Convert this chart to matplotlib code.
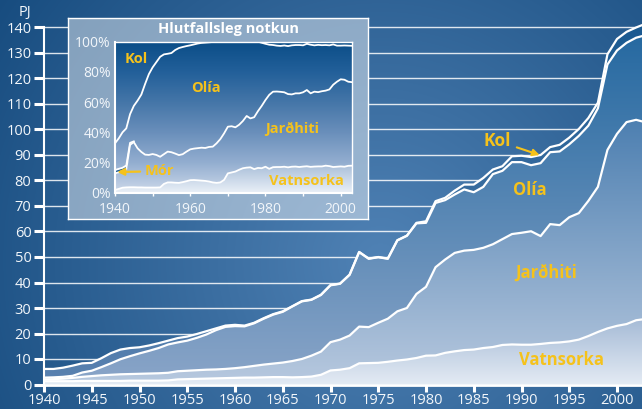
import numpy as np
import matplotlib.pyplot as plt
from matplotlib.colors import LinearSegmentedColormap, to_rgb

plt.rcParams['font.family'] = ['Open Sans', 'DejaVu Sans']

W, H = 642, 409

# years shown in both charts
ar = list(range(1940, 2004))

# main chart, PJ - upper edge of each stacked band
vatnsorka = [1.3, 1.3, 1.3, 1.3, 1.4, 1.4, 1.4, 1.4, 1.4, 1.5,
             1.5, 1.5, 1.5, 1.6, 2.0, 2.1, 2.2, 2.3, 2.4, 2.5,
             2.6, 2.7, 2.7, 2.8, 2.9, 2.9, 2.8, 2.9, 3.1, 3.8,
             5.5, 5.8, 6.4, 8.3, 8.4, 8.5, 8.9, 9.4, 9.8, 10.4,
             11.3, 11.4, 12.4, 13.0, 13.5, 13.7, 14.3, 14.7, 15.5, 15.7,
             15.6, 15.6, 15.9, 16.3, 16.5, 16.9, 17.6, 19.0, 20.6, 22.0,
             23.0, 23.7, 25.2, 25.7]
jardhiti = [2.0, 2.1, 2.3, 2.6, 3.0, 3.3, 3.6, 3.8, 4.0, 4.1,
            4.2, 4.3, 4.4, 4.6, 5.2, 5.4, 5.6, 5.8, 5.9, 6.1,
            6.4, 6.8, 7.3, 7.8, 8.2, 8.6, 9.2, 10.0, 11.3, 12.9,
            16.6, 17.6, 19.2, 22.7, 22.5, 24.2, 25.8, 28.7, 30.0, 35.5,
            38.3, 46.0, 49.0, 51.6, 52.5, 52.8, 53.6, 55.0, 57.0, 59.0,
            59.5, 60.1, 58.2, 62.9, 62.5, 65.6, 67.2, 72.0, 77.5, 92.0,
            98.3, 102.9, 103.8, 102.8]
olia = [2.7, 2.8, 3.0, 3.4, 4.7, 5.4, 6.8, 8.3, 9.9, 11.1,
        12.2, 13.2, 14.3, 15.7, 16.5, 17.2, 18.3, 19.6, 21.3, 22.6,
        22.9, 22.8, 24.0, 25.8, 27.4, 28.5, 30.6, 32.6, 33.2, 35.1,
        38.9, 39.5, 43.0, 51.9, 49.3, 49.9, 49.3, 56.5, 58.3, 63.2,
        63.4, 71.2, 72.3, 74.5, 76.5, 75.4, 77.5, 82.5, 83.8, 87.2,
        87.2, 86.0, 86.8, 91.1, 91.4, 94.2, 97.5, 101.5, 108.3, 125.5,
        131.0, 134.0, 136.0, 137.0]
heild = [6.1, 6.1, 6.6, 7.4, 8.3, 8.5, 10.3, 12.3, 13.7, 14.3,
         14.6, 15.3, 16.2, 17.2, 18.2, 18.8, 19.8, 20.9, 22.0, 23.1,
         23.4, 23.1, 24.2, 26.0, 27.6, 28.7, 30.7, 32.7, 33.3, 35.2,
         39.0, 39.6, 43.1, 52.0, 49.4, 50.0, 49.4, 56.6, 58.4, 63.4,
         64.0, 71.9, 73.2, 76.0, 78.4, 78.4, 81.0, 84.3, 85.6, 89.5,
         89.7, 89.2, 90.0, 93.1, 94.0, 96.8, 100.2, 104.5, 110.5, 129.5,
         135.5, 138.3, 140.0, 141.5]

# inset, % - upper edge of each stacked band
hl_vatnsorka = [1.8, 2.5, 3.3, 3.5, 3.6, 3.6, 3.5, 3.5, 3.4, 3.4,
                3.4, 3.4, 3.5, 5.8, 6.8, 6.8, 6.6, 6.5, 7.0, 7.6,
                8.3, 8.4, 8.2, 8.0, 7.8, 7.4, 6.8, 6.5, 6.8, 8.5,
                12.8, 13.4, 14.0, 15.2, 16.2, 16.6, 16.8, 15.6, 16.4, 16.2,
                17.2, 15.8, 16.9, 17.0, 17.0, 17.2, 16.8, 17.2, 17.3, 17.0,
                17.3, 17.5, 17.1, 17.3, 17.4, 17.4, 17.9, 17.6, 17.0, 17.2,
                17.4, 17.2, 17.8, 17.9]
hl_jardhiti = [12.8, 13.5, 14.3, 15.5, 31.6, 33.5, 29.4, 27.0, 25.2, 25.0,
               25.6, 25.0, 23.8, 25.5, 27.2, 26.8, 25.9, 24.9, 25.5, 27.2,
               28.7, 29.2, 29.5, 29.8, 29.6, 30.3, 30.5, 32.7, 35.5, 39.3,
               43.7, 44.0, 43.3, 45.0, 47.5, 50.8, 49.2, 50.0, 54.0, 57.5,
               61.4, 64.8, 66.9, 67.0, 66.8, 66.5, 65.3, 65.1, 65.8, 65.8,
               66.5, 68.0, 65.8, 66.9, 66.6, 67.2, 67.6, 68.4, 71.5, 73.5,
               75.1, 74.8, 73.5, 73.2]
# Mór only in the first years (band thickness)
mor_ar = [1940, 1941, 1942, 1943, 1944, 1945]
hl_mor = [2.2, 2.3, 2.2, 2.5, 1.4, 0.5]
hl_olia = [32.7, 36.0, 40.0, 42.6, 52.0, 57.5, 61.0, 65.0, 72.0, 78.5,
           83.0, 86.5, 90.0, 91.6, 92.0, 92.5, 94.5, 95.8, 96.5, 97.1,
           97.6, 98.2, 98.8, 99.2, 99.4, 99.6, 99.8, 100, 100, 100,
           100, 100, 100, 100, 100, 100, 100, 100, 100, 99.3,
           98.6, 98.0, 97.8, 97.4, 97.2, 97.5, 97.1, 97.6, 97.8, 97.8,
           97.6, 98.6, 98.0, 97.6, 97.9, 97.7, 97.8, 97.6, 98.2, 97.4,
           97.4, 97.5, 97.4, 97.3]

GUL = '#f5c21b'
HVITT = '#f2f6fa'


def gradient_band(ax, x, lo, hi, colors, vmax, z=2):
    # fill a band with a vertical colour gradient
    band = ax.fill_between(x, lo, hi, facecolor='none', edgecolor='none')
    cmap = LinearSegmentedColormap.from_list('band', colors)
    im = ax.imshow(np.linspace(0, 1, 256).reshape(-1, 1), cmap=cmap, origin='lower',
                   aspect='auto', extent=[x[0], x[-1], 0, vmax], zorder=z,
                   interpolation='bicubic')
    im.set_clip_path(band.get_paths()[0], transform=ax.transData)


fig = plt.figure(figsize=(W / 100, H / 100), dpi=100)

# background with a soft radial gradient
yy, xx = np.mgrid[0:H, 0:W]
f = np.clip(1 - np.hypot(xx - 380, yy - 260) / 480, 0, 1)
dark = np.array(to_rgb('#154a7d'))
light = np.array(to_rgb('#5082b5'))
bg_arr = dark + (light - dark) * f[..., None]
bgax = fig.add_axes([0, 0, 1, 1], zorder=0)
bgax.imshow(bg_arr, aspect='auto')
bgax.axis('off')

# main chart
ax = fig.add_axes([44 / W, 1 - 384.5 / H, (W - 44) / W, 384.5 / H], zorder=1)
ax.patch.set_alpha(0)
x = np.array(ar, dtype=float)
zero = np.zeros_like(x)
gradient_band(ax, x, zero, vatnsorka, ['#e4ebf4', '#a3b9d5'], 27)
gradient_band(ax, x, vatnsorka, jardhiti, ['#b8c9df', '#4b7eb0'], 106)
gradient_band(ax, x, jardhiti, olia, ['#8aa5c8', '#2468a0'], 140)
gradient_band(ax, x, olia, heild, ['#5a82b0', '#1a5990'], 143)
for s in (vatnsorka, jardhiti, olia, heild):
    ax.plot(x, s, color='white', lw=1.6, zorder=4, solid_joinstyle='round')

ax.set_xlim(1940, 1940 + 598 / 9.55)
ax.set_ylim(0, 384.5 / 2.55)
ax.set_yticks(range(0, 141, 10))
ax.set_xticks(range(1940, 2001, 5))
ax.set_axisbelow(True)
ax.grid(axis='y', color='white', lw=1, alpha=0.85)
ax.grid(axis='x', visible=False)
for side in ('top', 'right'):
    ax.spines[side].set_visible(False)
ax.spines['left'].set_color('white')
ax.spines['left'].set_linewidth(1.5)
ax.spines['left'].set_bounds(0, 140)
ax.spines['bottom'].set_color('white')
ax.spines['bottom'].set_linewidth(2)
ax.spines['bottom'].set_zorder(5)
ax.tick_params(axis='y', colors='white', length=7, width=2.2, pad=2,
               labelsize=10.5, labelcolor=HVITT)
ax.tick_params(axis='x', colors='white', length=5, width=2.2, pad=1,
               labelsize=10.5, labelcolor=HVITT)

fig.text(25 / W, 1 - 12.5 / H, 'PJ', color=HVITT, fontsize=10.5,
         ha='center', va='center')

ax.annotate('Kol', xy=(1991.9, 90), xytext=(1987.5, 95.5), color=GUL,
            fontsize=12.5, fontweight='bold', ha='center', va='center', zorder=6,
            arrowprops=dict(arrowstyle='-|>', color=GUL, lw=1.5, mutation_scale=10,
                            shrinkA=2, shrinkB=0))
ax.text(1990.9, 76.3, 'Olía', color=GUL, fontsize=12, fontweight='bold',
        ha='center', va='center', zorder=6)
ax.text(1992.6, 43.7, 'Jarðhiti', color=GUL, fontsize=12, fontweight='bold',
        ha='center', va='center', zorder=6)
ax.text(1994.2, 9.6, 'Vatnsorka', color=GUL, fontsize=12, fontweight='bold',
        ha='center', va='center', zorder=6)

# inset panel
panel = fig.add_axes([68 / W, 1 - 219 / H, 300 / W, 201 / H], zorder=2)
panel.imshow(bg_arr[18:219, 68:368] * 0.55 + 0.45, aspect='auto')
panel.set_xticks([])
panel.set_yticks([])
for sp in panel.spines.values():
    sp.set_color('white')
    sp.set_linewidth(1)
fig.text(228 / W, 1 - 29 / H, 'Hlutfallsleg notkun', color='white', fontsize=10.5,
         fontweight='bold', ha='center', va='center', zorder=5)

ins = fig.add_axes([115 / W, 1 - 192.7 / H, 237 / W, 151 / H], zorder=3)
cmap_in = LinearSegmentedColormap.from_list(
    'inset', ['#cdd9ea', '#93aed0', '#6a8fbb', '#4576a8', '#23609a', '#0b4e88'])
ins.imshow(np.linspace(0, 1, 256).reshape(-1, 1), cmap=cmap_in, origin='lower',
           aspect='auto', extent=[1940, 2003, 0, 100], interpolation='bicubic')
gradient_band(ins, x, np.zeros_like(x), hl_vatnsorka, ['#eaf0f7', '#a8bed9'], 19, z=2)
mor_top = np.array(hl_jardhiti[:len(mor_ar)]) + np.array(hl_mor)
ins.fill_between(mor_ar, hl_jardhiti[:len(mor_ar)], mor_top, color='#1b5d94', lw=0, zorder=2)
for s in (hl_vatnsorka, hl_jardhiti, hl_olia):
    ins.plot(x, s, color='white', lw=1.3, zorder=4, solid_joinstyle='round')
ins.plot(mor_ar, mor_top, color='white', lw=1.3, zorder=4)
ins.set_xlim(1940, 2003)
ins.set_ylim(0, 100)
ins.set_yticks(range(0, 101, 20))
ins.set_yticklabels([f'{v}%' for v in range(0, 101, 20)])
ins.set_xticks(range(1940, 2001, 10))
ins.set_xticklabels(['1940', '', '1960', '', '1980', '', '2000'])
for sp in ins.spines.values():
    sp.set_color('white')
    sp.set_linewidth(1)
ins.spines['left'].set_linewidth(1.5)
ins.spines['bottom'].set_linewidth(1.5)
ins.tick_params(colors='white', length=2.5, width=1, labelsize=10,
                labelcolor=HVITT, pad=4)
ins.tick_params(axis='y', length=0, pad=3)

ins.text(1945.7, 88.5, 'Kol', color=GUL, fontsize=10.5, fontweight='bold',
         ha='center', va='center', zorder=6)
ins.text(1964.1, 69.3, 'Olía', color=GUL, fontsize=10.5, fontweight='bold',
         ha='center', va='center', zorder=6)
ins.text(1987.2, 42.2, 'Jarðhiti', color=GUL, fontsize=10.5, fontweight='bold',
         ha='center', va='center', zorder=6)
ins.text(1990.9, 7.7, 'Vatnsorka', color=GUL, fontsize=10.5, fontweight='bold',
         ha='center', va='center', zorder=6)
ins.annotate('Mór', xy=(1940.6, 13.7), xytext=(1951.7, 14.2), color=GUL,
             fontsize=10.5, fontweight='bold', ha='center', va='center', zorder=6,
             arrowprops=dict(arrowstyle='-|>', color=GUL, lw=1.6, mutation_scale=10,
                             shrinkA=1, shrinkB=0))

fig.savefig('out.png', dpi=100)
